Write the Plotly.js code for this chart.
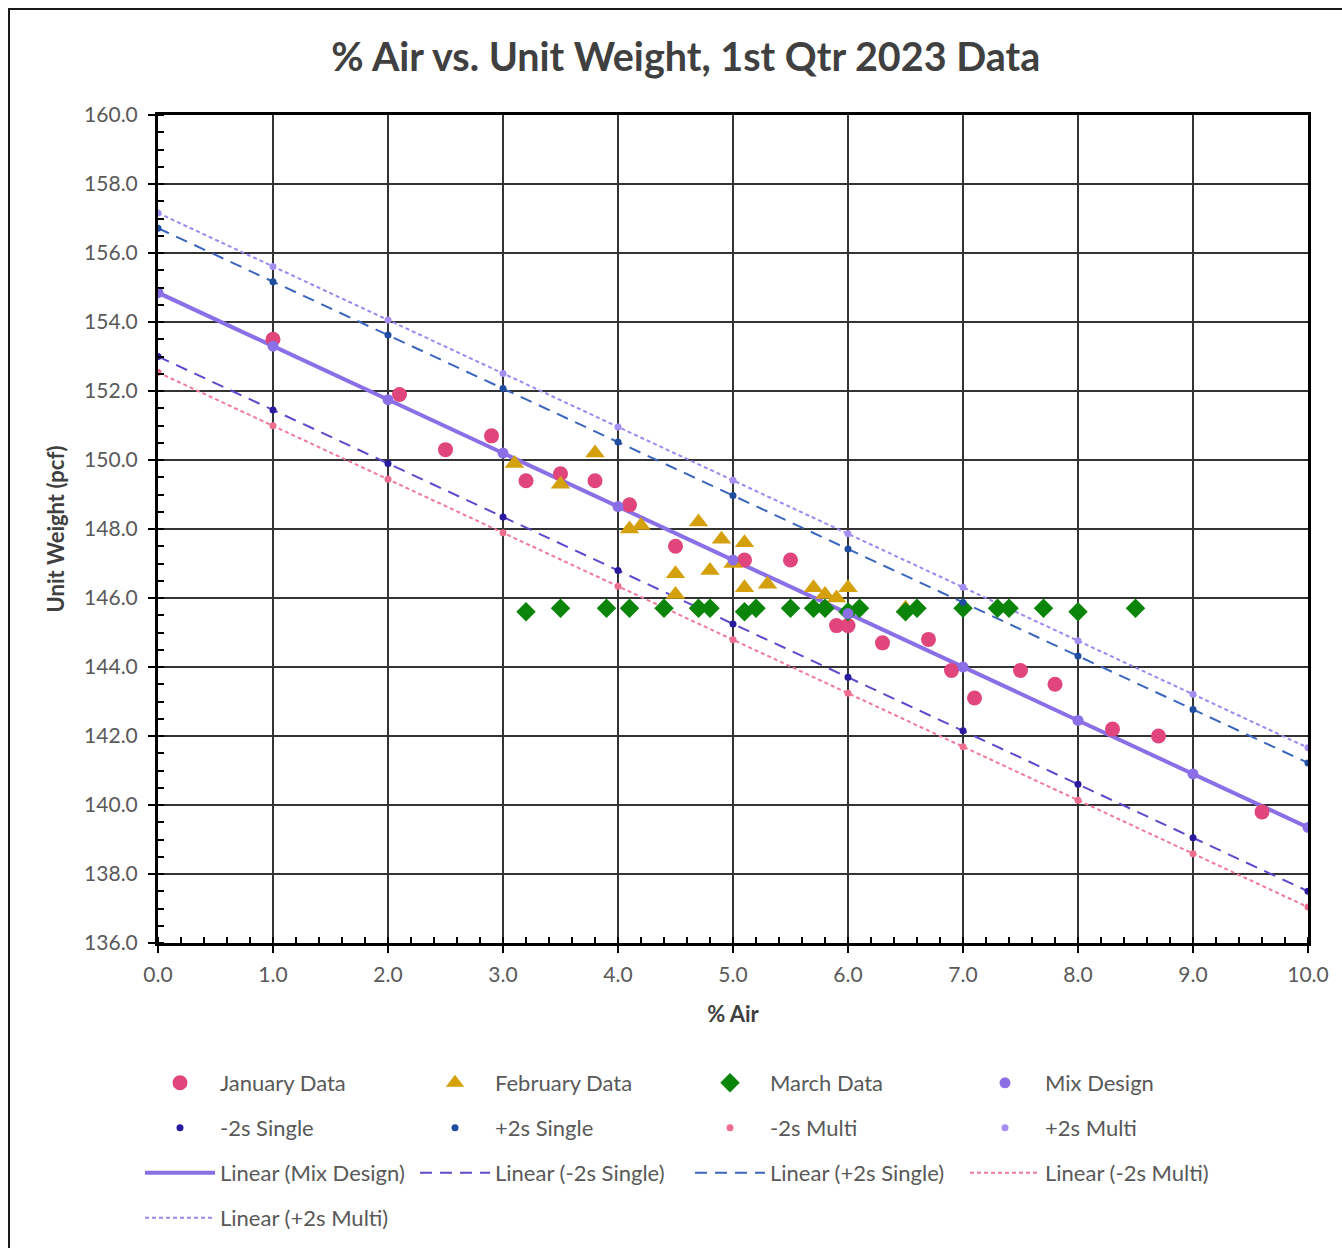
<!DOCTYPE html>
<html>
<head>
<meta charset="utf-8">
<script src="https://cdn.plot.ly/plotly-3.0.1.min.js"></script>
<style>
  html, body { margin: 0; padding: 0; background: #ffffff; overflow: hidden; }
  #frame { position: absolute; left: 8px; top: 8px; width: 1400px; height: 1300px;
           border: 2.5px solid #1a1a1a; box-sizing: border-box; }
  #chart { position: absolute; left: 0; top: 0; width: 1342px; height: 1248px; }
</style>
</head>
<body>
<div id="frame"></div>
<div id="chart"></div>
<script>
// % Air readings and unit weights (pcf) for each month
const janAir = [1.0, 2.1, 2.5, 2.9, 3.2, 3.5, 3.8, 4.1, 4.5, 5.1, 5.5, 5.9, 6.0, 6.3, 6.7, 6.9, 7.1, 7.5, 7.8, 8.3, 8.7, 9.6];
const janUW  = [153.5, 151.9, 150.3, 150.7, 149.4, 149.6, 149.4, 148.7, 147.5, 147.1, 147.1, 145.2, 145.2, 144.7, 144.8, 143.9, 143.1, 143.9, 143.5, 142.2, 142.0, 139.8];

const febAir = [3.1, 3.5, 3.8, 4.1, 4.2, 4.5, 4.5, 4.7, 4.8, 4.9, 5.0, 5.1, 5.1, 5.3, 5.7, 5.8, 5.9, 6.0, 6.5];
const febUW  = [149.9, 149.3, 150.2, 148.0, 148.1, 146.7, 146.1, 148.2, 146.8, 147.7, 147.0, 147.6, 146.3, 146.4, 146.3, 146.1, 146.0, 146.3, 145.7];

const marAir = [3.2, 3.5, 3.9, 4.1, 4.4, 4.7, 4.8, 5.1, 5.2, 5.5, 5.7, 5.8, 6.0, 6.1, 6.5, 6.6, 7.0, 7.3, 7.4, 7.7, 8.0, 8.5];
const marUW  = [145.6, 145.7, 145.7, 145.7, 145.7, 145.7, 145.7, 145.6, 145.7, 145.7, 145.7, 145.7, 145.6, 145.7, 145.6, 145.7, 145.7, 145.7, 145.7, 145.7, 145.6, 145.7];

// Mix design and control limits at whole-percent air contents
const designAir   = [0, 1, 2, 3, 4, 5, 6, 7, 8, 9, 10];
const mixDesign   = [154.85, 153.30, 151.75, 150.20, 148.65, 147.10, 145.55, 144.00, 142.45, 140.90, 139.35];
const minus2sSingle = [153.00, 151.45, 149.90, 148.35, 146.80, 145.25, 143.70, 142.15, 140.60, 139.05, 137.50];
const plus2sSingle  = [156.72, 155.17, 153.62, 152.07, 150.52, 148.97, 147.42, 145.87, 144.32, 142.77, 141.22];
const minus2sMulti  = [152.54, 150.99, 149.44, 147.89, 146.34, 144.79, 143.24, 141.69, 140.14, 138.59, 137.04];
const plus2sMulti   = [157.16, 155.61, 154.06, 152.51, 150.96, 149.41, 147.86, 146.31, 144.76, 143.21, 141.66];

// Axis tick positions and labels
const xTicks = [0, 1, 2, 3, 4, 5, 6, 7, 8, 9, 10];
const xTickText = xTicks.map(v => v.toFixed(1));
const yTicks = [136, 138, 140, 142, 144, 146, 148, 150, 152, 154, 156, 158, 160];
const yTickText = yTicks.map(v => v.toFixed(1));

// Least-squares straight line through a series, evaluated at the ends of its x span
function linearFit(xs, ys) {
  const n = xs.length;
  const mx = xs.reduce((a, b) => a + b, 0) / n;
  const my = ys.reduce((a, b) => a + b, 0) / n;
  let sxy = 0, sxx = 0;
  for (let i = 0; i < n; i++) { sxy += (xs[i] - mx) * (ys[i] - my); sxx += (xs[i] - mx) ** 2; }
  const m = sxy / sxx, b = my - m * mx;
  const x0 = Math.min(...xs), x1 = Math.max(...xs);
  return { x: [x0, x1], y: [b + m * x0, b + m * x1] };
}

const FONT = 'Lato, "Open Sans", sans-serif';
const C = {
  jan: '#E0457B', feb: '#D4A00C', mar: '#0A850A',
  mix: '#8A6FE6', m2sS: '#2A1A9E', p2sS: '#1F4EA0', m2sM: '#EE6E90', p2sM: '#A48EF2',
  lm2sS: '#5F48CC', lp2sS: '#3A66BE', lm2sM: '#F07A98', lp2sM: '#9C88F0'
};

function pts(name, xs, ys, symbol, color, size, legend) {
  return { type: 'scatter', mode: 'markers', name, x: xs, y: ys, legend,
           marker: { symbol, color, size, line: { width: 0 } }, hoverinfo: 'x+y+name' };
}
function trend(name, xs, ys, color, width, dash, legend) {
  const f = linearFit(xs, ys);
  return { type: 'scatter', mode: 'lines', name, x: f.x, y: f.y, legend,
           line: { color, width, dash }, hoverinfo: 'skip' };
}

const traces = [
  trend('Linear (Mix Design)', designAir, mixDesign, C.mix, 4, 'solid', 'legend3'),
  trend('Linear (-2s Single)', designAir, minus2sSingle, C.lm2sS, 2, '12px,8px', 'legend3'),
  trend('Linear (+2s Single)', designAir, plus2sSingle, C.lp2sS, 2, '12px,8px', 'legend3'),
  trend('Linear (-2s Multi)', designAir, minus2sMulti, C.lm2sM, 2, '4px,3px', 'legend3'),
  trend('Linear (+2s Multi)', designAir, plus2sMulti, C.lp2sM, 2, '4px,3px', 'legend4'),
  pts('January Data', janAir, janUW, 'circle', C.jan, 15, 'legend'),
  pts('February Data', febAir, febUW, 'triangle-up', C.feb, 17, 'legend'),
  pts('March Data', marAir, marUW, 'diamond', C.mar, 15, 'legend'),
  pts('Mix Design', designAir, mixDesign, 'circle', C.mix, 11, 'legend'),
  pts('-2s Single', designAir, minus2sSingle, 'circle', C.m2sS, 7, 'legend2'),
  pts('+2s Single', designAir, plus2sSingle, 'circle', C.p2sS, 7, 'legend2'),
  pts('-2s Multi', designAir, minus2sMulti, 'circle', C.m2sM, 7, 'legend2'),
  pts('+2s Multi', designAir, plus2sMulti, 'circle', C.p2sM, 7, 'legend2')
];

const legendBase = {
  orientation: 'h', xanchor: 'left', yanchor: 'middle',
  xref: 'container', yref: 'container', x: 140 / 1342,
  font: { family: FONT, size: 22, color: '#595959' },
  entrywidth: 190, entrywidthmode: 'pixels', itemwidth: 70,
  bgcolor: 'rgba(0,0,0,0)', traceorder: 'normal'
};
function rowY(px) { return 1 - px / 1248; }

const layout = {
  width: 1342, height: 1248,
  margin: { l: 158, r: 34, t: 115, b: 305 },
  paper_bgcolor: 'rgba(0,0,0,0)', plot_bgcolor: '#ffffff',
  font: { family: FONT, color: '#595959' },
  title: { text: '% Air vs. Unit Weight, 1st Qtr 2023 Data', x: 0.511, xanchor: 'center', y: 0.954, yanchor: 'middle',
           font: { family: FONT, size: 39.5, color: '#404040', weight: 'bold' } },
  xaxis: {
    range: [0, 10], tickvals: xTicks, ticktext: xTickText,
    showgrid: true, gridcolor: '#333333', gridwidth: 1.5,
    showline: true, linecolor: '#000', linewidth: 3, mirror: true,
    ticks: 'outside', ticklen: 7, tickwidth: 2, tickcolor: '#000', ticklabelstandoff: 4,
    minor: { dtick: 0.2, ticks: 'inside', ticklen: 6, tickwidth: 2, tickcolor: '#000', showgrid: false },
    tickfont: { family: FONT, size: 21, color: '#595959' },
    title: { text: '% Air', standoff: 22, font: { family: FONT, size: 22, color: '#404040', weight: 'bold' } },
    zeroline: false, fixedrange: true
  },
  yaxis: {
    range: [136, 160], tickvals: yTicks, ticktext: yTickText,
    showgrid: true, gridcolor: '#333333', gridwidth: 1.5,
    showline: true, linecolor: '#000', linewidth: 3, mirror: true,
    ticks: 'outside', ticklen: 7, tickwidth: 2, tickcolor: '#000', ticklabelstandoff: 6,
    minor: { dtick: 0.5, ticks: 'inside', ticklen: 6, tickwidth: 2, tickcolor: '#000', showgrid: false },
    tickfont: { family: FONT, size: 21, color: '#595959' },
    title: { text: 'Unit Weight (pcf)', standoff: 14, font: { family: FONT, size: 22, color: '#404040', weight: 'bold' } },
    zeroline: false, fixedrange: true
  },
  showlegend: true,
  legend:  Object.assign({}, legendBase, { y: rowY(1083) }),
  legend2: Object.assign({}, legendBase, { y: rowY(1128) }),
  legend3: Object.assign({}, legendBase, { y: rowY(1173) }),
  legend4: Object.assign({}, legendBase, { y: rowY(1218) })
};

Plotly.newPlot('chart', traces, layout, { displayModeBar: false, staticPlot: true });
</script>
</body>
</html>
